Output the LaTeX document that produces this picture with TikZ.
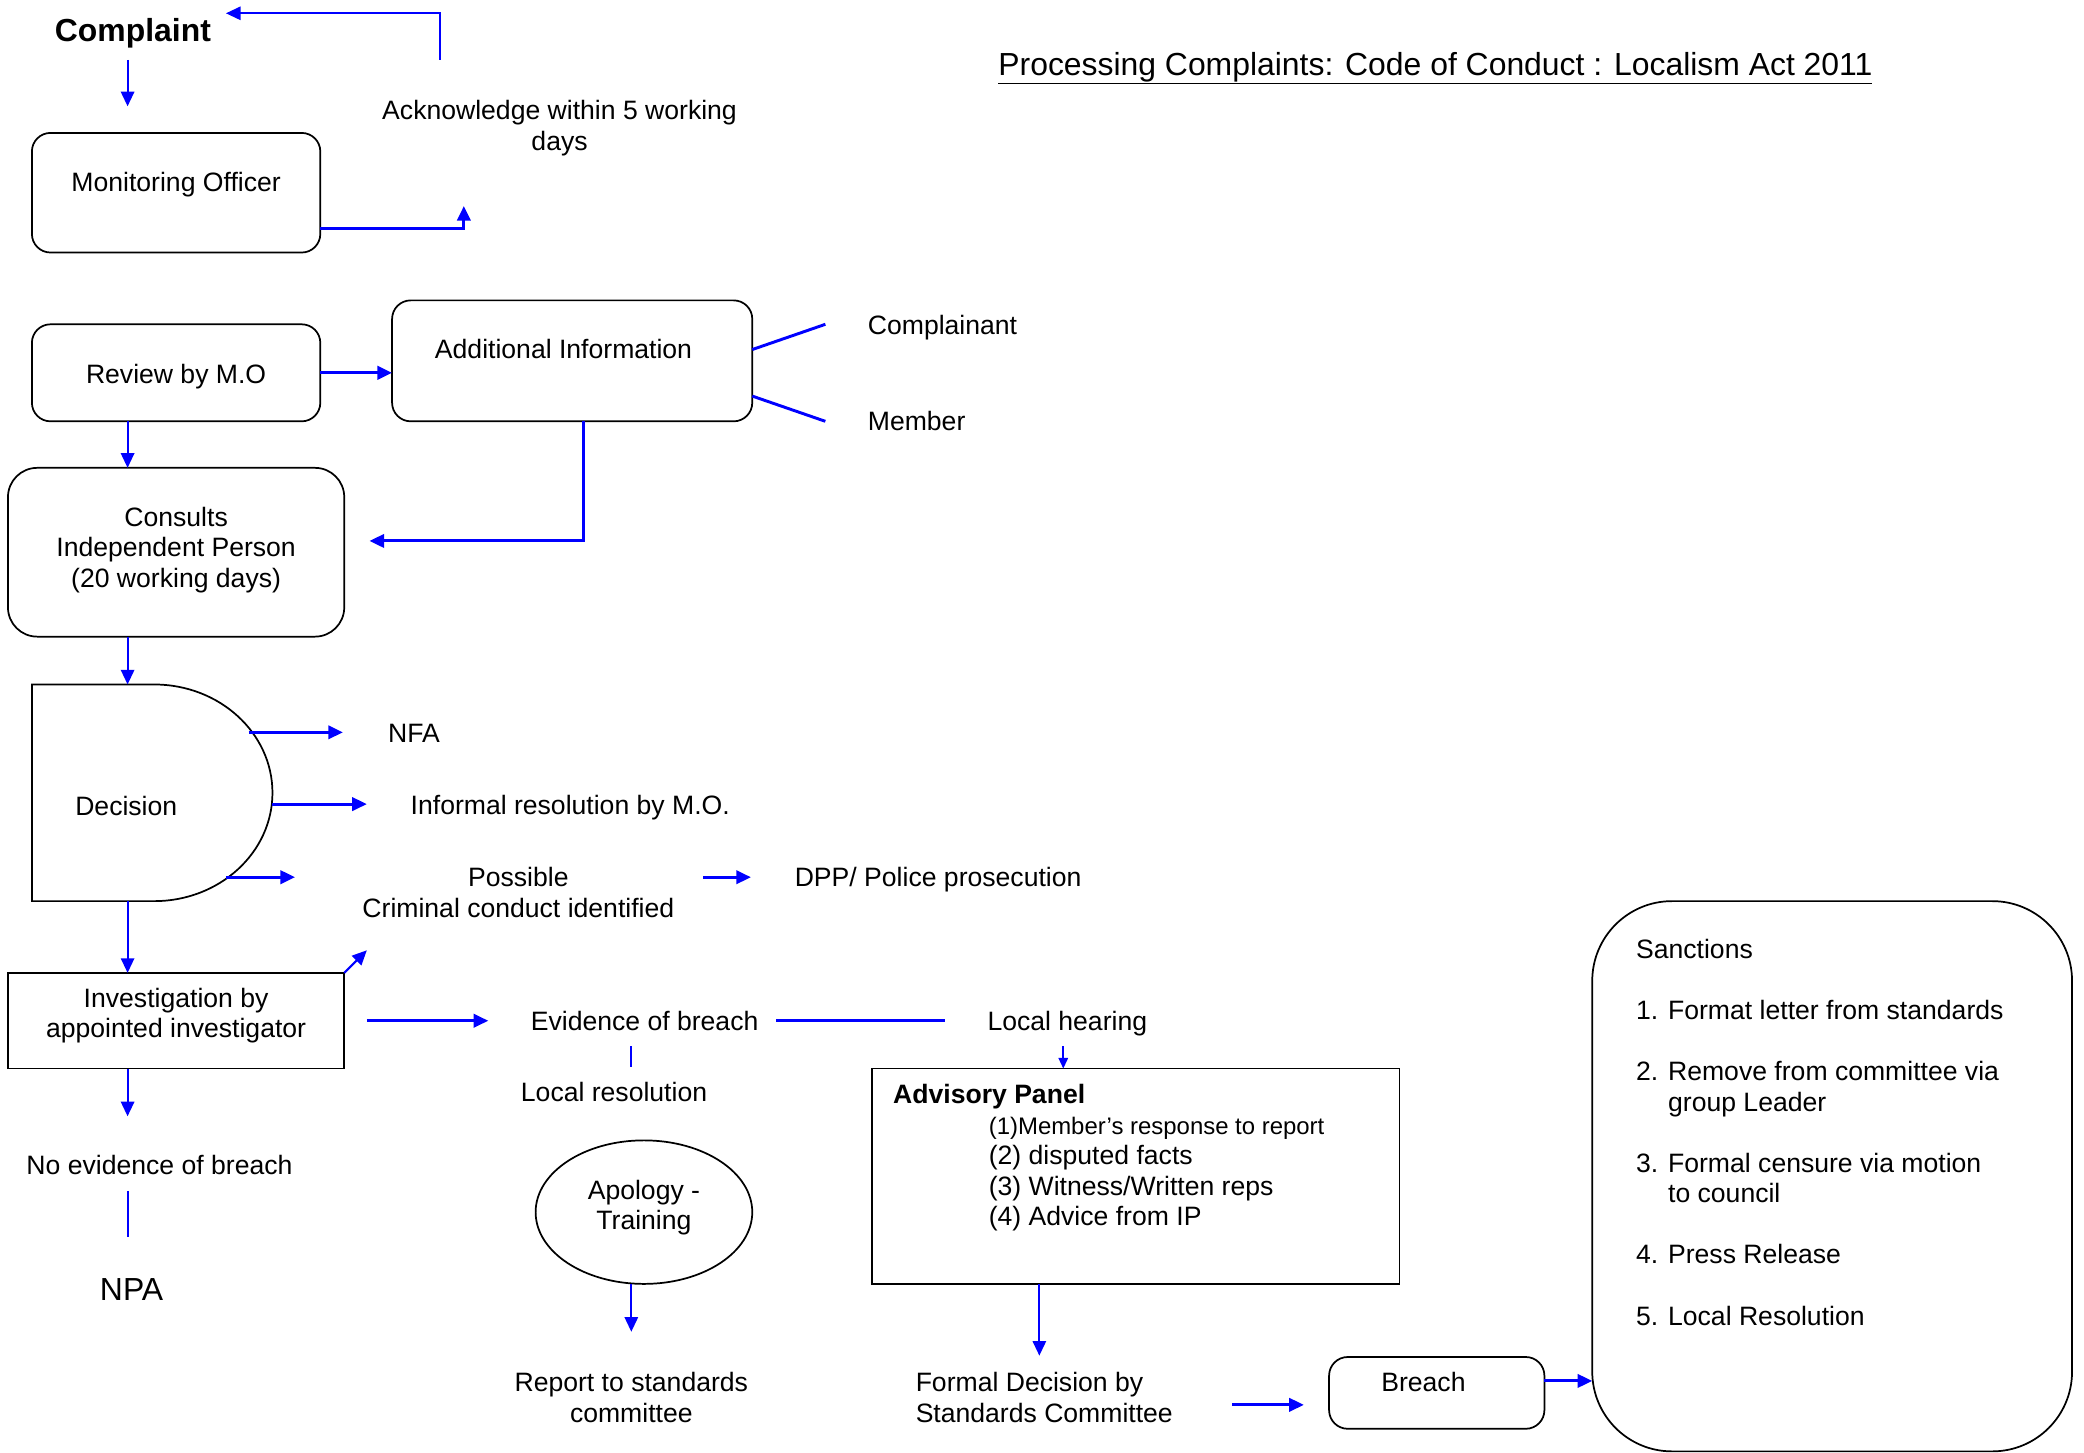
\documentclass[tikz,border=0pt]{standalone}
\usepackage{fontspec}
\setmainfont{Liberation Sans}
\usetikzlibrary{arrows.meta,shapes.geometric}
\definecolor{fb}{RGB}{0,0,255}
\newcommand\tl[1]{\begin{tabular}{@{}l@{}}#1\end{tabular}}
\newcommand\tc[1]{\begin{tabular}{@{}c@{}}#1\end{tabular}}
\newcommand\bt[2]{\raisebox{#1}[0pt][0pt]{\tc{#2}}}
\begin{document}
\begin{tikzpicture}[x=1pt,y=-1pt,
  font=\fontsize{20}{23}\selectfont,
  every node/.style={inner sep=0pt, outer sep=0pt},
  rbox/.style={draw, line width=1.3pt, rounded corners=14pt},
  sbox/.style={draw, line width=1.3pt},
  arr/.style={draw=fb, line width=1.5pt, -{Triangle[length=11pt,width=10pt]}},
  arrb/.style={draw=fb, line width=2.2pt, -{Triangle[length=11pt,width=10pt]}},
  arrs/.style={draw=fb, line width=1.5pt, -{Triangle[length=8pt,width=7pt]}},
  lnk/.style={draw=fb, line width=1.5pt},
  lnkb/.style={draw=fb, line width=2.2pt},
  big/.style={font=\fontsize{24}{28}\selectfont}]
\useasboundingbox (0,0) rectangle (1568,1093);

% ---------- text and boxes ----------
\node[big, font=\bfseries\fontsize{24}{28}\selectfont, anchor=base] (complaint) at (100,31.5) {Complaint};
\node[big, anchor=base] (title) at (1080,56.5) {\underline{Processing Complaints: Code of Conduct : Localism Act 2011}};
\node[anchor=north] (ack) at (421,74) {\tc{Acknowledge within 5 working\\days}};

\node[rbox, minimum width=217pt, minimum height=90pt] (mo) at (132.5,145) {\bt{0.6pt}{Monitoring Officer}};
\node[rbox, minimum width=217pt, minimum height=73pt] (review) at (132.5,280.5) {\bt{-8.9pt}{Review by M.O}};
\node[rbox, minimum width=271pt, minimum height=91pt] (add) at (430.5,271.5) {\bt{1.1pt}{Additional Information}\kern13pt};
\node[anchor=north west] (cpl) at (653,235.9) {\tl{Complainant}};
\node[anchor=north west] (mem) at (653,307.9) {\tl{Member}};
\node[rbox, rounded corners=22pt, minimum width=253pt, minimum height=127pt] (consults) at (132.5,415.5) {\bt{-3.9pt}{Consults\\Independent Person\\(20 working days)}};

\draw[line width=1.3pt] (24,515) -- (116,515) arc[start angle=90, end angle=-90, x radius=89pt, y radius=81.5pt] -- (24,678) -- cycle;
\node[minimum width=181pt, minimum height=163pt] (dec) at (114.5,596.5) {\bt{-17.9pt}{Decision}\kern39pt};

\node[anchor=north west] (nfa) at (292,542.9) {\tl{NFA}};
\node[anchor=north west] (inf) at (309,596.9) {\tl{Informal resolution by M.O.}};
\node[anchor=north] (pos) at (390,650.9) {\tc{Possible\\Criminal conduct identified}};
\node[anchor=north west] (dpp) at (598,650.9) {\tl{DPP/ Police prosecution}};

\node[sbox, minimum width=253pt, minimum height=72pt] (invest) at (132.5,768) {\bt{-1.9pt}{Investigation by\\appointed investigator}};
\node[anchor=north] (ev) at (485,758.9) {\tc{Evidence of breach}};
\node[anchor=north west] (lh) at (743,758.9) {\tl{Local hearing}};
\node[anchor=north] (lr) at (462,812.9) {\tc{Local resolution}};
\node[anchor=north] (noev) at (120,867.9) {\tc{No evidence of breach}};
\node[big, anchor=base] (npa) at (99,978.5) {NPA};

\node[draw, ellipse, line width=1.3pt, minimum width=163pt, minimum height=108pt] (apol) at (484.5,912) {\bt{-2.4pt}{Apology -\\Training}};
\node[anchor=north] (rep) at (475,1030.9) {\tc{Report to standards\\committee}};

\node[sbox, minimum width=397pt, minimum height=162pt] (adv) at (854.5,885) {};
\node[anchor=north west] (advt) at (672,813.9) {\tl{\bfseries Advisory Panel}};
\node[anchor=north west] (advl) at (744,837.2) {\tl{{\fontsize{18}{23}\selectfont (1)Member’s response to report}\\(2) disputed facts\\(3) Witness/Written reps\\(4) Advice from IP}};

\node[anchor=north west] (formal) at (689,1030.9) {\tl{Formal Decision by\\Standards Committee}};
\node[rbox, minimum width=162pt, minimum height=54pt] (breach) at (1081,1048) {\bt{0.6pt}{Breach}\kern20pt};

\node[rbox, rounded corners=60pt, minimum width=361pt, minimum height=414pt] (sanc) at (1378.5,885) {};
\node[anchor=north west] (sanct) at (1231,704.9) {\begin{tabular}{@{}l@{ }l@{}}
\multicolumn{2}{@{}l@{}}{Sanctions}\\
\\
1.&Format letter from standards\\
\\
2.&Remove from committee via\\
&group Leader\\
\\
3.&Formal censure via motion\\
&to council\\
\\
4.&Press Release\\
\\
5.&Local Resolution
\end{tabular}};

% ---------- connectors ----------
\coordinate (k1) at (96,45);
\draw[arr, shorten >=20pt] (k1) -- (k1 |- mo.north);
\coordinate (k2) at (331,45);
\coordinate (k2e) at (170,10);
\draw[arr] (k2) |- (k2e);
\coordinate (k3) at (349,172);
\coordinate (k3e) at (349,155);
\draw[arrb] (mo.east |- k3) -| (k3e);
\draw[arrb] (review.east) -- (review.east -| add.west);
\draw[arr] (review.south -| k1) -- (consults.north -| k1);
\coordinate (k6) at (439,407);
\coordinate (k6e) at (278,407);
\draw[arrb] (add.south -| k6) |- (k6e);
\coordinate (k7a) at (621,244);
\coordinate (k7b) at (621,317);
\draw[lnkb] ([yshift=8.5pt]add.east) -- (k7a);
\draw[lnkb] ([yshift=-26.5pt]add.east) -- (k7b);
\draw[arr] (consults.south -| k1) -- (dec.north -| k1);
\coordinate (k9) at (187,551);
\draw[arrb, shorten >=34pt] (k9) -- (k9 -| nfa.west);
\coordinate (k10) at (205,605);
\draw[arrb, shorten >=33pt] (k10) -- (k10 -| inf.west);
\coordinate (k11) at (170,660);
\coordinate (k11e) at (222,660);
\draw[arrb] (k11) -- (k11e);
\coordinate (k12) at (529,660);
\draw[arrb, shorten >=33pt] (k12) -- (k12 -| dpp.west);
\draw[arr] (dec.south -| k1) -- (invest.north -| k1);
\draw[arr] (invest.north east) -- ++(17,-17);
\coordinate (k15) at (276,768);
\draw[arrb, shorten >=32pt] (k15) -- (k15 -| ev.west);
\coordinate (k16) at (584,768);
\draw[lnkb, shorten >=32pt] (k16) -- (k16 -| lh.west);
\coordinate (k17) at (475,787);
\draw[lnk, shorten >=10pt] (k17) -- (k17 |- lr.north);
\coordinate (k18) at (800,787);
\draw[arrs] (k18) -- (k18 |- adv.north);
\draw[arr, shorten >=28pt] (invest.south -| k1) -- (k1 |- noev.north);
\coordinate (k20) at (96,896);
\coordinate (k20e) at (96,931);
\draw[lnk] (k20) -- (k20e);
\coordinate (k21) at (475,1002);
\draw[arr] (apol.south -| k21) -- (k21);
\coordinate (k22) at (782,1020);
\draw[arr] (adv.south -| k22) -- (k22);
\coordinate (k23) at (927,1057);
\draw[arrb, shorten >=19pt] (k23) -- (k23 -| breach.west);
\coordinate (k24) at (1162,1039);
\draw[arrb] (breach.east |- k24) -- (k24 -| sanc.west);
\end{tikzpicture}
\end{document}
